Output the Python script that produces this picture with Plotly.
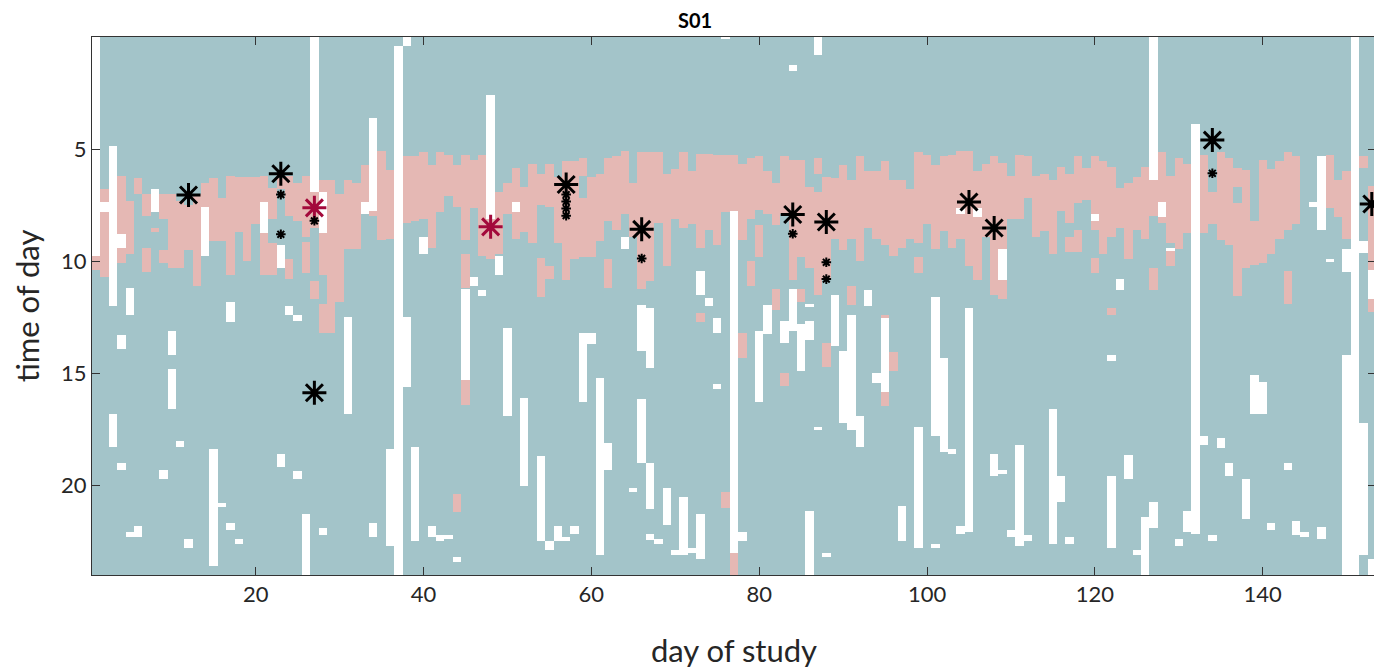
import numpy as np
import plotly.graph_objects as go

# ---------------- data ----------------
n_days = 153
days = list(range(1, n_days + 1))

# pink (state B) segments: (day, start hour, end hour)
pink_segments = [
    (1, 9.75, 10.4), (2, 6.8, 10.7), (4, 6.2, 10.1), (5, 7.3, 9.7), (6, 6.3, 7.0),
    (7, 7.0, 8.0), (7, 9.4, 10.5), (8, 8.5, 8.7), (9, 7.0, 8.1), (9, 9.5, 10.1),
    (10, 7.0, 10.3), (11, 7.3, 10.3), (12, 7.5, 9.5), (13, 7.0, 11.1), (14, 6.5, 7.6),
    (15, 6.3, 9.1), (16, 7.2, 9.1), (17, 6.2, 10.6), (18, 6.25, 8.7), (19, 6.25, 10.0),
    (20, 6.25, 8.35), (21, 6.2, 10.6), (22, 6.75, 8.1), (22, 9.2, 10.6), (23, 6.3, 6.8),
    (24, 6.2, 8.0), (24, 9.9, 10.8), (25, 6.5, 8.2), (26, 6.2, 8.9), (26, 9.15, 10.55),
    (27, 6.9, 8.5), (27, 10.9, 11.7), (28, 6.4, 6.9), (28, 8.75, 10.6), (28, 11.9, 13.2),
    (29, 6.4, 13.2), (30, 7.0, 11.8), (31, 6.4, 9.45), (32, 6.5, 9.45), (33, 5.7, 7.8),
    (34, 5.4, 8.0), (35, 5.1, 9.05), (36, 5.95, 9.0), (38, 5.3, 8.3), (39, 5.3, 8.2),
    (40, 5.15, 8.1), (41, 5.7, 9.4), (42, 5.15, 7.8), (43, 5.25, 7.1), (44, 5.7, 7.6),
    (44, 20.4, 21.2), (45, 5.25, 9.05), (45, 9.7, 11.2), (45, 15.3, 16.4), (46, 5.5, 7.65),
    (47, 5.25, 9.75), (48, 8.1, 9.9), (49, 6.9, 9.7), (50, 6.5, 7.9), (51, 5.85, 9.0),
    (52, 6.7, 8.7), (53, 5.65, 9.2), (54, 6.1, 7.5), (54, 9.85, 11.6), (55, 5.65, 7.6),
    (55, 10.2, 10.8), (56, 6.25, 9.2), (57, 5.55, 10.85), (58, 5.55, 9.9), (59, 5.4, 6.2),
    (59, 7.2, 9.8), (60, 6.25, 9.8), (61, 6.1, 9.1), (62, 5.4, 8.2), (62, 9.9, 11.2),
    (63, 5.3, 8.6), (64, 5.1, 7.9), (65, 6.5, 8.9), (66, 5.15, 11.25), (67, 5.15, 10.9),
    (68, 5.15, 8.3), (69, 6.1, 10.2), (70, 5.9, 8.1), (71, 5.15, 8.5), (72, 6.0, 8.35),
    (73, 5.2, 9.4), (73, 12.3, 12.7), (74, 5.2, 8.6), (75, 5.25, 9.3), (76, 5.25, 7.8),
    (76, 20.3, 21.0), (77, 5.25, 7.75), (77, 23.0, 24.0), (78, 5.65, 9.05), (78, 13.2, 14.3),
    (79, 5.4, 8.1), (79, 10.0, 11.1), (80, 5.3, 7.7), (80, 8.4, 9.8), (81, 6.0, 7.9),
    (82, 6.5, 8.4), (82, 11.25, 12.2), (83, 5.3, 7.9), (83, 15.0, 15.55), (84, 5.5, 10.85),
    (85, 5.5, 9.8), (85, 11.25, 11.8), (86, 6.7, 10.3), (87, 5.4, 6.1), (87, 6.9, 11.5),
    (88, 6.25, 10.8), (88, 13.65, 14.7), (89, 6.3, 9.0), (90, 5.7, 9.5), (91, 6.4, 9.0),
    (91, 11.1, 11.95), (92, 5.3, 10.0), (93, 6.0, 8.5), (94, 6.0, 9.0), (95, 5.55, 9.3),
    (95, 12.4, 12.55), (95, 15.85, 16.45), (96, 6.4, 9.75), (96, 14.05, 14.9), (97, 6.4, 9.4),
    (98, 6.8, 9.0), (99, 5.15, 9.2), (99, 9.8, 10.55), (100, 5.25, 8.35), (101, 5.7, 9.45),
    (102, 5.3, 8.65), (103, 5.25, 9.4), (104, 5.1, 9.0), (105, 5.1, 10.2), (106, 6.0, 10.85),
    (107, 5.65, 8.9), (108, 5.3, 11.5), (109, 5.6, 9.45), (109, 10.85, 11.7), (110, 6.2, 8.1),
    (111, 5.25, 8.1), (112, 5.3, 7.2), (113, 6.2, 8.9), (114, 6.1, 8.65), (115, 6.4, 9.7),
    (116, 5.8, 7.75), (117, 6.1, 8.3), (117, 8.9, 9.6), (118, 5.3, 7.4), (118, 8.6, 9.6),
    (119, 5.85, 7.25), (120, 5.3, 8.6), (120, 9.85, 10.55), (121, 5.55, 9.7), (122, 5.8, 8.9),
    (122, 12.1, 12.4), (123, 6.75, 8.5), (124, 6.5, 9.9), (125, 6.25, 8.6), (126, 5.8, 9.0),
    (127, 6.4, 8.0), (127, 10.3, 11.3), (128, 5.15, 8.3), (129, 6.2, 9.2), (129, 9.55, 10.2),
    (130, 5.4, 9.45), (131, 5.65, 8.75), (133, 5.25, 8.75), (134, 6.9, 8.35), (135, 5.15, 9.05),
    (136, 5.4, 9.3), (137, 5.85, 6.7), (137, 7.4, 11.55), (138, 5.95, 10.3), (139, 8.2, 10.15),
    (140, 5.5, 10.1), (141, 5.9, 9.7), (142, 5.55, 9.0), (143, 5.15, 8.6), (143, 10.45, 11.9),
    (144, 5.3, 8.35), (148, 5.25, 7.65), (149, 6.4, 8.05), (150, 6.0, 9.0), (152, 5.3, 5.85),
    (153, 6.65, 12.25),
]

# missing data (white) segments: (day, start hour, end hour)
missing_segments = [
    (1, 0.0, 9.75), (2, 7.35, 7.8), (3, 4.85, 12.0), (3, 16.8, 18.3), (4, 8.8, 9.4),
    (4, 13.3, 13.9), (4, 19.0, 19.3), (5, 11.2, 12.4), (5, 22.1, 22.3), (6, 21.8, 22.3),
    (8, 6.8, 7.8), (9, 19.3, 19.7), (10, 13.1, 14.2), (10, 14.8, 16.6), (11, 18.0, 18.3),
    (12, 22.4, 22.8), (14, 7.6, 9.75), (15, 18.4, 23.6), (16, 20.8, 20.95), (17, 11.8, 12.7),
    (17, 21.7, 22.0), (18, 22.4, 22.6), (21, 7.35, 8.75), (23, 9.3, 10.3), (23, 18.6, 19.2),
    (24, 12.0, 12.4), (25, 12.4, 12.65), (25, 19.35, 19.7), (26, 21.3, 24.0), (27, 0.0, 6.9),
    (28, 6.9, 8.75), (28, 21.9, 22.2), (31, 12.5, 16.8), (33, 7.35, 7.9), (34, 3.6, 7.75),
    (34, 21.7, 22.3), (36, 18.4, 22.7), (37, 0.4, 24.0), (38, 0.0, 0.4), (38, 12.5, 15.6),
    (39, 18.3, 22.5), (40, 8.9, 9.7), (41, 21.8, 22.3), (42, 22.2, 22.5), (43, 22.2, 22.4),
    (44, 23.2, 23.4), (45, 11.25, 15.3), (46, 10.7, 11.1), (47, 11.3, 11.55), (48, 2.6, 8.1),
    (49, 9.75, 10.6), (50, 13.0, 16.9), (51, 7.35, 7.8), (52, 16.1, 20.05), (54, 18.7, 22.5),
    (55, 22.5, 22.9), (56, 21.8, 22.5), (57, 22.3, 22.5), (58, 21.8, 22.15), (59, 13.2, 16.3),
    (60, 13.2, 13.7), (61, 15.2, 23.1), (62, 18.1, 19.3), (64, 8.9, 9.45), (65, 20.1, 20.3),
    (66, 11.95, 14.0), (66, 16.15, 19.0), (67, 12.1, 14.75), (67, 19.0, 21.05), (67, 22.15, 22.45),
    (68, 22.4, 22.6), (69, 20.1, 21.75), (70, 22.9, 23.1), (71, 20.5, 23.1), (72, 22.8, 23.0),
    (73, 10.45, 11.5), (73, 21.3, 23.3), (74, 11.65, 12.0), (75, 12.55, 13.2), (75, 15.5, 15.7),
    (76, 0.0, 0.1), (77, 7.75, 23.0), (78, 22.1, 22.5), (80, 13.1, 16.3), (81, 11.95, 13.25),
    (83, 12.65, 13.65), (84, 1.25, 1.5), (84, 11.25, 13.1), (85, 12.8, 14.9), (86, 11.9, 12.05),
    (86, 12.65, 13.5), (86, 21.15, 24.0), (87, 0.0, 0.8), (87, 17.4, 17.55), (88, 23.0, 23.2),
    (89, 11.5, 13.8), (90, 14.0, 17.2), (91, 12.4, 17.55), (92, 16.9, 18.3), (93, 11.3, 12.0),
    (94, 15.0, 15.45), (95, 12.55, 15.85), (97, 20.9, 22.5), (99, 17.4, 22.8), (101, 11.6, 17.8),
    (101, 22.6, 22.8), (102, 14.3, 18.5), (103, 18.4, 18.6), (104, 7.65, 7.9), (104, 21.8, 22.15),
    (105, 12.1, 22.1), (106, 7.65, 8.05), (108, 18.6, 19.6), (109, 9.45, 10.85), (109, 19.3, 19.5),
    (110, 22.0, 22.3), (111, 18.2, 22.7), (112, 22.2, 22.5), (115, 16.6, 22.6), (116, 19.6, 20.75),
    (117, 22.3, 22.6), (120, 7.9, 8.2), (122, 14.2, 14.45), (122, 19.6, 22.8), (123, 10.8, 11.3),
    (124, 18.65, 19.7), (125, 22.9, 23.1), (126, 21.4, 24.0), (127, 0.0, 6.4), (127, 20.75, 21.9),
    (128, 7.35, 8.05), (129, 9.4, 9.55), (130, 22.4, 22.7), (131, 21.15, 22.1), (132, 3.9, 22.15),
    (133, 17.8, 18.2), (134, 22.2, 22.5), (135, 17.9, 18.35), (136, 19.0, 19.6), (138, 19.7, 21.5),
    (139, 15.1, 16.8), (140, 15.4, 16.8), (141, 21.7, 22.0), (143, 19.0, 19.3), (144, 21.6, 22.2),
    (145, 22.1, 22.3), (146, 7.35, 7.6), (147, 5.3, 8.6), (147, 21.85, 22.4), (148, 9.9, 10.05),
    (150, 9.45, 10.5), (150, 14.2, 24.0), (151, 0.0, 24.0), (152, 9.1, 9.65), (152, 17.2, 23.1),
    (153, 10.4, 11.7), (153, 23.3, 24.0),
]

# event markers
big_days = [12, 23, 27, 57, 66, 84, 88, 105, 108, 134, 153]
big_hours = [7.05, 6.1, 15.87, 6.58, 8.58, 7.92, 8.25, 7.36, 8.52, 4.6, 7.45]
red_days = [27, 48]
red_hours = [7.62, 8.47]
small_days = [23, 23, 27, 57, 57, 57, 57, 66, 84, 88, 88, 134]
small_hours = [7.03, 8.8, 8.2, 7.03, 7.34, 7.65, 7.97, 9.88, 8.78, 10.05, 10.8, 6.08]

x_ticks = [20, 40, 60, 80, 100, 120, 140]
y_ticks = [5, 10, 15, 20]

# ---------------- build grid ----------------
step = 0.05
hours = np.arange(0, 24, step) + step / 2
z = np.zeros((len(hours), n_days))
for d, a, b in pink_segments:
    z[(hours >= a) & (hours <= b), d - 1] = 1
for d, a, b in missing_segments:
    z[(hours >= a) & (hours <= b), d - 1] = np.nan

teal = "#a3c4c9"
pink = "#e5b8b4"
font = "Lato"
fig = go.Figure()
fig.add_trace(go.Heatmap(
    x=days, y=hours, z=z, zmin=0, zmax=1,
    colorscale=[[0, teal], [0.5, teal], [0.5, pink], [1, pink]],
    showscale=False, hoverinfo="skip",
))
fig.add_trace(go.Scatter(
    x=big_days, y=big_hours, mode="markers",
    marker=dict(symbol="asterisk-open", size=20, color="black",
                line=dict(color="black", width=3)),
    hoverinfo="skip", showlegend=False, cliponaxis=False,
))
fig.add_trace(go.Scatter(
    x=red_days, y=red_hours, mode="markers",
    marker=dict(symbol="asterisk-open", size=20, color="#a3093b",
                line=dict(color="#a3093b", width=3)),
    hoverinfo="skip", showlegend=False,
))
fig.add_trace(go.Scatter(
    x=small_days, y=small_hours, mode="markers",
    marker=dict(symbol="asterisk-open", size=8, color="black",
                line=dict(color="black", width=2)),
    hoverinfo="skip", showlegend=False,
))

axis_common = dict(
    showgrid=False, zeroline=False, showline=True, linecolor="#333333", linewidth=1,
    mirror="ticks", ticks="inside", ticklen=8, tickcolor="#333333", automargin=False,
    tickfont=dict(family=font, size=22, color="#262626"),
)
fig.update_layout(
    width=1374, height=661,
    margin=dict(l=84, r=6, t=29, b=94),
    paper_bgcolor="white", plot_bgcolor="white",
    title=dict(text="<b>S01</b>", x=0.5, xanchor="center", y=0.98, yanchor="middle",
               font=dict(family=font, size=20, color="black")),
    xaxis=dict(range=[0.5, 153.5], tickvals=x_ticks,
               title=dict(text="day of study", font=dict(family=font, size=31, color="#262626"), standoff=36),
               **axis_common),
    yaxis=dict(range=[24, 0], tickvals=y_ticks,
               title=dict(text="time of day", font=dict(family=font, size=31, color="#262626"), standoff=24),
               **axis_common),
    showlegend=False,
)
fig.write_html("out.html")
